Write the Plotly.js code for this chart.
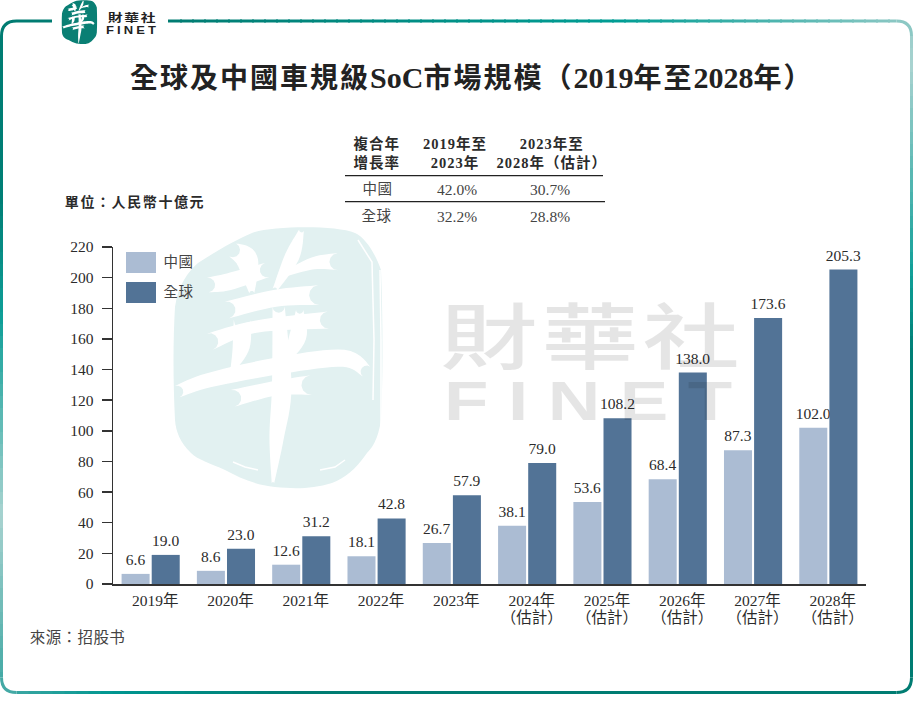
<!DOCTYPE html>
<html><head><meta charset="utf-8">
<script src="https://cdn.plot.ly/plotly-3.0.1.min.js"></script>
<style>html,body{margin:0;padding:0;background:#fff}#c{width:914px;height:714px}</style>
</head><body><div id="c"></div>
<script>
const categories=['2019年','2020年','2021年','2022年','2023年','2024年<br>（估計）','2025年<br>（估計）','2026年<br>（估計）','2027年<br>（估計）','2028年<br>（估計）'];
const china=[6.6,8.6,12.6,18.1,26.7,38.1,53.6,68.4,87.3,102.0];
const world=[19.0,23.0,31.2,42.8,57.9,79.0,108.2,138.0,173.6,205.3];
const yTicks=[0,20,40,60,80,100,120,140,160,180,200,220];
const seriesNames=['中國','全球'];
const chinaColor='#abbcd3', worldColor='#527396';
const cagrHead=['複合年<br>增長率','2019年至<br>2023年','2023年至<br>2028年（估計）'];
const cagrChina=['42.0%','30.7%'];
const cagrWorld=['32.2%','28.8%'];

const W=914,H=714,PL=113,PR=866,PT=247,PB=584;
const px=x=>(x-PL)/(PR-PL), py=y=>(PB-y)/(PB-PT);
const SERIF='"Liberation Serif","Noto Sans CJK TC",serif';
const CJK='"Noto Sans CJK TC","Liberation Serif",serif';
const SANS='"Liberation Sans",sans-serif';
const ink='#2b2b2b', soft='#444444';

function rect(x0,y0,x1,y1,fill){return {type:'rect',xref:'paper',yref:'paper',x0:px(x0),x1:px(x1),y0:py(y0),y1:py(y1),fillcolor:fill,line:{width:0},layer:'above'};}
function hline(x0,x1,y,c,w){return {type:'line',xref:'paper',yref:'paper',x0:px(x0),x1:px(x1),y0:py(y),y1:py(y),line:{color:c,width:w},layer:'above'};}
function note(x,y,text,size,opt){const o=opt||{};return {xref:'paper',yref:'paper',x:px(x),y:py(y),text:text,showarrow:false,xanchor:'center',yanchor:'middle',align:'center',font:{family:o.family||SERIF,size:size,color:o.color||ink,weight:o.weight||400}};}
function pth(d,opt){return Object.assign({type:'path',xref:'paper',yref:'paper',path:d,line:{width:0},layer:'below'},opt||{});}
function P(cmds){return cmds.map(c=>c[0]+(c.length>1?c.slice(1).reduce((s,v,i)=>s+(i?(i%2?',':' '):'')+(i%2?py(v):px(v)),''):'')).join(' ');}

const shapes=[];
const L=1.5,R=911.5,T=21,B=692.5,r=15,lw=3;
const hex=c=>[1,3,5].map(i=>parseInt(c.substr(i,2),16));
function mix(stops,v){for(let i=1;i<stops.length;i++){if(v<=stops[i][0]){const [a,ca]=stops[i-1],[b,cb]=stops[i],t=(v-a)/(b-a||1),A=hex(ca),B2=hex(cb);return 'rgb('+A.map((q,k)=>Math.round(q+(B2[k]-q)*t)).join(',')+')';}}return stops[stops.length-1][1];}
function seg(cmds,c){shapes.push(pth(P(cmds),{line:{color:c,width:lw},fillcolor:'rgba(0,0,0,0)'}));}
function gradH(y,a,b,stops){for(let x=a;x<b;x+=12){seg([['M',x,y],['L',Math.min(x+14,b),y]],mix(stops,x+6));}}
function gradV(x,a,b,stops){for(let y=a;y<b;y+=12){seg([['M',x,y],['L',x,Math.min(y+14,b)]],mix(stops,y+6));}}
const topStops=[[0,'#007c72'],[168,'#007c72'],[617,'#009d94'],[900,'#8cc8c4']];
const rightStops=[[0,'#8cc8c4'],[67,'#a8d3d0'],[275,'#0f9f98'],[350,'#007f76'],[700,'#007c72']];
const leftStops=[[0,'#007c72'],[200,'#007f76'],[318,'#0f9f98'],[515,'#a8d3d0'],[680,'#44a9a5']];
const botStops=[[0,'#44a9a5'],[110,'#009690'],[300,'#007c72'],[914,'#007c72']];
seg([['M',52,T],['L',L+r,T],['Q',L,T,L,T+r]],'#007c72');
gradH(T,168,R-r,topStops);
seg([['M',R-r,T],['Q',R,T,R,T+r]],'#8cc8c4');
gradV(R,T+r,B-r,rightStops);
seg([['M',R,B-r],['Q',R,B,R-r,B]],'#007c72');
gradH(B,L+r,R-r,botStops);
seg([['M',L+r,B],['Q',L,B,L,B-r]],'#44a9a5');
gradV(L,T+r,B-r,leftStops);

const blob=[['M',252,233],['C',272,226,335,225,355,233],['C',366,238,376,255,381,270],['C',383,320,383,380,381,420],['C',378,440,372,448,367,453],['C',355,470,345,478,332,483],['C',312,489,295,489,275,487],['C',255,485,240,478,225,470],['C',210,463,198,460,191,453],['C',180,442,176,432,175,420],['C',173,380,173,340,175,307],['C',178,285,188,272,198,263],['C',215,252,235,240,252,233],['Z']];
const zx=z=>160+z/2.613, zy=z=>220+z/3;
const brush=[
 [[190,90,6],[225,115,9],[235,170,6],[240,220,2]],
 [[125,195,6],[180,185,7],[280,150,6]],
 [[370,30,2],[345,110,6],[300,210,2]],
 [[320,165,2],[400,130,5],[465,125,7]],
 [[175,270,7],[300,235,7],[415,225,8]],
 [[130,365,7],[250,320,5],[440,300,7]],
 [[215,300,7],[212,380,7],[190,450,2]],
 [[365,270,3],[360,350,7],[325,430,2]],
 [[45,515,5],[130,480,6],[320,435,7],[480,415,7],[540,455,5]],
 [[190,535,7],[300,505,6],[395,495,8]],
 [[310,260,5],[318,500,8],[305,650,6],[295,790,1]]
];
function smooth(p){const o=[];for(let i=0;i<p.length-1;i++){const a=p[Math.max(i-1,0)],b=p[i],c=p[i+1],d=p[Math.min(i+2,p.length-1)];for(let k=0;k<8;k++){const t=k/8,t2=t*t,t3=t2*t;o.push([0,1,2].map(j=>0.5*(2*b[j]+(c[j]-a[j])*t+(2*a[j]-5*b[j]+4*c[j]-d[j])*t2+(3*b[j]-a[j]-3*c[j]+d[j])*t3)));}}o.push(p[p.length-1]);return o;}
function strokePoly(raw,fx,fy,gain){
 const q=smooth(raw.map(v=>[zx(v[0]),zy(v[1]),v[2]*gain])),l=[],rr=[];
 q.forEach((c,i)=>{const a=q[Math.max(i-1,0)],b=q[Math.min(i+1,q.length-1)];let dx=b[0]-a[0],dy=b[1]-a[1];const n=Math.hypot(dx,dy)||1;dx/=n;dy/=n;const w=Math.max(c[2],0.6);l.push([c[0]-dy*w,c[1]+dx*w]);rr.push([c[0]+dy*w,c[1]-dx*w]);});
 function cap(c,from,to){const out=[],w=Math.max(c[2],0.6),a0=Math.atan2(from[1]-c[1],from[0]-c[0]);let a1=Math.atan2(to[1]-c[1],to[0]-c[0]);if(a1<a0)a1+=2*Math.PI;for(let k=1;k<6;k++){const t=a0+(a1-a0)*k/6;out.push([c[0]+Math.cos(t)*w,c[1]+Math.sin(t)*w]);}return out;}
 const endC=q[q.length-1],stC=q[0];
 const ring=[...l,...cap(endC,l[l.length-1],rr[rr.length-1]),...rr.slice().reverse(),...cap(stC,rr[0],l[0])];
 return P(ring.map((p,i)=>[i?'L':'M',fx(p[0]),fy(p[1])]).concat([['Z']]));
}
const idX=x=>x,idY=y=>y;
shapes.push(pth(P(blob),{fillcolor:'#e2f1f1'}));
brush.forEach(b=>shapes.push(pth(strokePoly(b,idX,idY,1.22),{fillcolor:'#ffffff'})));
[[[358,240],[372,262],[374,340],[373,400]],[[380,270],[381,340],[381,425]],[[233,462],[245,467],[258,470]],[[320,470],[335,467],[345,460]]].forEach(a=>{
 shapes.push(pth(P(a.map((p,i)=>[i?'L':'M',p[0],p[1]])),{line:{color:'#ffffff',width:1.5},fillcolor:'rgba(0,0,0,0)'}));
});
const sX=x=>62+(x-175)*35/207, sY=y=>0+(y-226)*44/262;
shapes.push(pth(P(blob.map(c=>c.length===1?c:[c[0],...c.slice(1).map((v,i)=>i%2?sY(v):sX(v))])),{fillcolor:'#0a7f74',layer:'above'}));
brush.forEach(b=>shapes.push(pth(strokePoly(b,sX,sY,1.1),{fillcolor:'#ffffff',layer:'above'})));

shapes.push(hline(345,603,175.7,'#222222',1.3));
shapes.push(hline(345,605,201.7,'#222222',1.3));
shapes.push(rect(126,252,156,273,chinaColor));
shapes.push(rect(126,282,156,303,worldColor));

const cj=s=>'<span style="letter-spacing:2px">'+s+'</span>';
const la=s=>'<span style="font-size:30px">'+s+'</span>';
const TITLE=cj('全球及中國車規級')+la('SoC')+cj('市場規模（')+la('2019')+cj('年至')+la('2028')+cj('年）');
const UNIT='單位：人民幣十億元', SRC='來源：招股书';
const anns=[
 note(132.5,17,'財華社',11,{family:CJK,color:'#222222',weight:700}),
 note(132.5,30,'FINET',10,{family:SANS,color:'#222222',weight:700}),
 note(591.5,331,'財華社',72,{family:CJK,color:'rgba(0,0,0,0.10)',weight:500}),
 note(598,400,'FINET',56,{family:SANS,color:'rgba(0,0,0,0.10)',weight:700}),
 note(471,78,TITLE,28,{color:'#222222',weight:700}),
 note(377,153,cagrHead[0],14.5,{weight:700}),
 note(455,153,cagrHead[1],14.5,{weight:700}),
 note(552,153,cagrHead[2],14.5,{weight:700}),
 note(377,189,seriesNames[0],14.5,{color:soft}),
 note(457,189,cagrChina[0],15.5,{color:soft}),
 note(550,189,cagrChina[1],15.5,{color:soft}),
 note(377,216,seriesNames[1],14.5,{color:soft}),
 note(457,216,cagrWorld[0],15.5,{color:soft}),
 note(550,216,cagrWorld[1],15.5,{color:soft}),
 note(135,202,UNIT,14,{weight:700}),
 note(178.5,262,seriesNames[0],14.5,{color:soft}),
 note(178.5,292,seriesNames[1],14.5,{color:soft}),
 note(77,636,SRC,15.5,{family:CJK,color:soft})
];

const mkText=a=>a.map(v=>v.toFixed(1));
const barFont={family:SERIF,size:15.5,color:ink};
Plotly.newPlot('c',[
 {type:'bar',name:seriesNames[0],x:categories,y:china,marker:{color:chinaColor},text:mkText(china),textposition:'outside',constraintext:'none',cliponaxis:false,textfont:barFont},
 {type:'bar',name:seriesNames[1],x:categories,y:world,marker:{color:worldColor},text:mkText(world),textposition:'outside',constraintext:'none',cliponaxis:false,textfont:barFont}
],{
 width:W,height:H,showlegend:false,barmode:'group',bargap:0.2,bargroupgap:0.07,
 paper_bgcolor:'rgba(0,0,0,0)',plot_bgcolor:'rgba(0,0,0,0)',
 margin:{l:PL,r:W-PR,t:PT,b:H-PB,pad:0},
 xaxis:{type:'category',categoryorder:'array',categoryarray:categories,tickmode:'array',tickvals:categories,ticktext:categories,range:[-0.5,9.5],showgrid:false,ticks:'',showline:true,linecolor:'#333333',linewidth:2,zeroline:false,tickangle:0,automargin:false,ticklabelstandoff:1,tickfont:{family:SERIF,size:15.5,color:ink}},
 yaxis:{range:[0,220],tickmode:'array',tickvals:yTicks,ticktext:yTicks.map(String),showgrid:false,zeroline:false,ticks:'outside',ticklen:10,tickwidth:1.5,tickcolor:'#333333',showline:true,linecolor:'#333333',linewidth:1.5,automargin:false,ticklabelstandoff:5,tickfont:{family:SERIF,size:15.5,color:ink}},
 shapes:shapes,annotations:anns
},{displayModeBar:false,staticPlot:true}).then(gd=>{
 const styled=[[UNIT,1.6,1],[SRC,0.4,1],[seriesNames[0],0.5,1],[seriesNames[1],0.5,1],['財華社',null,1.35],['FINET',null,1.3]];
 gd.querySelectorAll('.annotation-text').forEach(t=>{
  const s=t.textContent, size=parseFloat(getComputedStyle(t).fontSize);
  styled.forEach(([k,ls,sx])=>{
   if(s!==k) return;
   let sp=ls;
   if(sp===null) sp=(k==='FINET')?(size>20?15:2.4):(size>20?3:1.2);
   t.style.letterSpacing=sp+'px';
   if(sx!==1){const bb=t.getBBox(),cx=bb.x+bb.width/2;t.setAttribute('transform','translate('+cx+' 0) scale('+sx+' 1) translate('+(-cx)+' 0)');}
  });
 });
 gd.querySelectorAll('.annotation-text tspan.line').forEach(l=>{l.style.letterSpacing='1px';});
 gd.querySelectorAll('.barlayer .bartext').forEach(t=>{t.setAttribute('transform','translate(0,-3) '+(t.getAttribute('transform')||''));});
 gd.querySelectorAll('.xtick text').forEach(t=>{t.setAttribute('transform','translate(4.5,0) '+(t.getAttribute('transform')||''));});
 gd.querySelectorAll('.xtick text tspan.line').forEach(l=>{if(l.getAttribute('dy')&&parseFloat(l.getAttribute('dy'))>0)l.setAttribute('dy','1.15em');});
});
</script></body></html>
